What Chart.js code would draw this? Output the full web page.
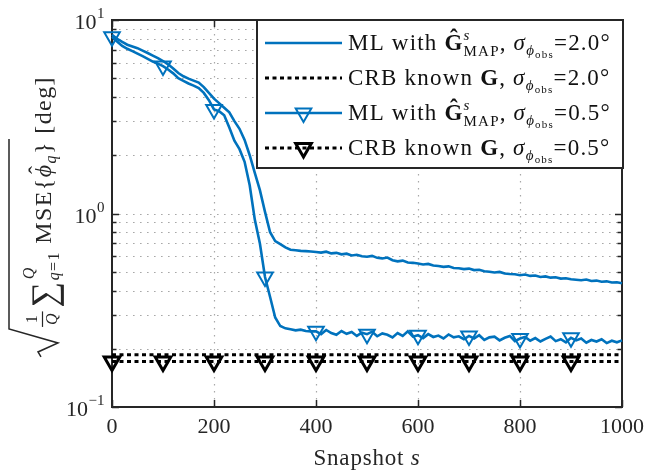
<!DOCTYPE html>
<html>
<head>
<meta charset="utf-8">
<script src="https://cdn.jsdelivr.net/npm/chart.js@4.4.1/dist/chart.umd.min.js"></script>
<style>
  html, body { margin: 0; padding: 0; background: #fff; }
  #wrap { position: relative; width: 647px; height: 473px; }
</style>
</head>
<body>
<div id="wrap"><canvas id="mseChart" width="647" height="473"></canvas></div>
<script>
// ── Data ─────────────────────────────────────────────
const SNAP = [
  0, 10, 20, 30, 40, 50, 60, 70, 80, 90,
  100, 110, 120, 130, 140, 150, 160, 170, 180, 190,
  200, 210, 220, 230, 240, 250, 260, 270, 280, 290,
  300, 310, 320, 330, 340, 350, 360, 370, 380, 390,
  400, 410, 420, 430, 440, 450, 460, 470, 480, 490,
  500, 510, 520, 530, 540, 550, 560, 570, 580, 590,
  600, 610, 620, 630, 640, 650, 660, 670, 680, 690,
  700, 710, 720, 730, 740, 750, 760, 770, 780, 790,
  800, 810, 820, 830, 840, 850, 860, 870, 880, 890,
  900, 910, 920, 930, 940, 950, 960, 970, 980, 990,
  1000
];
// ML with G_MAP, sigma = 2.0 deg
const ML_20 = [
  8.4, 8.0, 7.7, 7.45, 7.3, 7.15, 6.95, 6.75, 6.55, 6.35,
  6.14, 5.9, 5.62, 5.32, 5.12, 4.98, 4.86, 4.75, 4.5, 4.2,
  3.92, 3.72, 3.52, 3.33, 3.0, 2.74, 2.4, 2.0, 1.62, 1.32,
  1.02, 0.8, 0.72, 0.695, 0.668, 0.65, 0.646, 0.641, 0.639, 0.636,
  0.633, 0.628, 0.635, 0.622, 0.626, 0.615, 0.620, 0.607, 0.612, 0.601,
  0.598, 0.604, 0.590, 0.586, 0.592, 0.574, 0.566, 0.571, 0.558, 0.556,
  0.551, 0.545, 0.549, 0.538, 0.535, 0.530, 0.533, 0.523, 0.521, 0.516,
  0.519, 0.510, 0.512, 0.503, 0.500, 0.496, 0.499, 0.490, 0.487, 0.485,
  0.480, 0.484, 0.476, 0.478, 0.470, 0.473, 0.466, 0.468, 0.461, 0.463,
  0.457, 0.455, 0.452, 0.456, 0.448, 0.450, 0.444, 0.446, 0.440, 0.441,
  0.436
];
// ML with G_MAP, sigma = 0.5 deg
const ML_05 = [
  8.2, 7.75, 7.35, 7.1, 6.9, 6.7, 6.5, 6.3, 6.1, 5.95,
  5.78, 5.55, 5.3, 5.0, 4.85, 4.7, 4.58, 4.45, 4.2, 3.85,
  3.45, 3.38, 3.22, 2.78, 2.38, 2.15, 1.85, 1.4, 0.93, 0.7,
  0.47, 0.37, 0.29, 0.262, 0.255, 0.252, 0.249, 0.251, 0.247, 0.246,
  0.246, 0.238, 0.250, 0.241, 0.236, 0.247, 0.239, 0.244, 0.233, 0.242,
  0.238, 0.245, 0.232, 0.240, 0.236, 0.229, 0.241, 0.233, 0.246, 0.231,
  0.235, 0.227, 0.238, 0.230, 0.234, 0.226, 0.237, 0.229, 0.232, 0.224,
  0.233, 0.226, 0.235, 0.222, 0.229, 0.231, 0.221, 0.228, 0.233, 0.219,
  0.226, 0.230, 0.220, 0.227, 0.218, 0.225, 0.231, 0.219, 0.224, 0.216,
  0.228, 0.221, 0.226, 0.215, 0.222, 0.218, 0.224, 0.214, 0.220, 0.216,
  0.221
];
// CRB, known G
const SNAP_CRB = [0, 100, 200, 300, 400, 500, 600, 700, 800, 900, 1000];
const CRB_20 = [0.186, 0.186, 0.186, 0.186, 0.186, 0.186, 0.186, 0.186, 0.186, 0.186, 0.186];
const CRB_05 = [0.172, 0.172, 0.172, 0.172, 0.172, 0.172, 0.172, 0.172, 0.172, 0.172, 0.172];

const X_TICKS = [0, 200, 400, 600, 800, 1000];
const Y_EXP = [-1, 0, 1];
const Y_MULT = [1, 2, 3, 4, 5, 6, 7, 8, 9];

const BLUE = '#0072BD';
const AXIS = '#262626';
const GRID = '#a8a8a8';
const SERIF = '"Liberation Serif", "DejaVu Serif", serif';
const font = (size, style) => (style ? style + ' ' : '') + size + 'px ' + SERIF;
const PHI = '\u03D5';

// ── rich text helper (sub/superscripts) ──────────────
function drawParts(ctx, x, y, parts, dry, spacing) {
  let cx = x, mark = x, maxX = x, prevStart = x, prevW = 0, radEnd = null;
  if ('letterSpacing' in ctx) ctx.letterSpacing = (spacing || 0) + 'px';
  for (const p of parts) {
    ctx.font = p.font;
    const w = ctx.measureText(p.t).width;
    if (p.over) {
      if (!dry) ctx.fillText(p.t, prevStart + (prevW - w) / 2 + (p.dx || 0), y + (p.dy || 0));
      continue;
    }
    if (p.reset) cx = mark;
    else if (!p.cont) cx = maxX;
    if (p.mark) mark = cx;
    cx += (p.dx || 0);
    if (!dry) ctx.fillText(p.t, cx, y + (p.dy || 0));
    prevStart = cx; prevW = w;
    cx += w;
    maxX = Math.max(maxX, cx);
    if (p.radEnd) radEnd = cx;
  }
  if ('letterSpacing' in ctx) ctx.letterSpacing = '0px';
  return { width: maxX - x, radEnd };
}

function legendText(method, sigma) {
  const big = font(23), small = font(15), tiny = font(11);
  const head = method === 'ML'
    ? [{ t: 'ML with ', font: big }, { t: '\u011C', font: font(23, 'bold') },
       { t: 's', font: font(15, 'italic'), dy: -10, mark: true },
       { t: 'MAP', font: small, dy: 6, reset: true }]
    : [{ t: 'CRB known ', font: big }, { t: 'G', font: font(23, 'bold') }];
  return head.concat([
    { t: ', ', font: big },
    { t: '\u03C3', font: font(23, 'italic') },
    { t: PHI, font: font(15, 'italic'), dy: 5 },
    { t: 'obs', font: tiny, dy: 8 },
    { t: '=' + sigma + '\u00B0', font: big }
  ]);
}

// ── grid + axes box, drawn under the data ────────────
const gridPlugin = {
  id: 'gridBox',
  beforeDatasetsDraw(chart) {
    const { ctx, chartArea: a, scales } = chart;
    const xs = scales.x, ys = scales.y;
    ctx.save();
    ctx.strokeStyle = GRID;
    ctx.lineWidth = 1.2;
    ctx.setLineDash([1.6, 5.4]);
    Y_EXP.forEach(e => Y_MULT.forEach(m => {
      const py = Math.round(ys.getPixelForValue(m * Math.pow(10, e))) + 0.5;
      if (py <= a.top + 1 || py >= a.bottom - 1) return;
      ctx.beginPath(); ctx.moveTo(a.left, py); ctx.lineTo(a.right, py); ctx.stroke();
    }));
    X_TICKS.forEach(v => {
      const px = Math.round(xs.getPixelForValue(v)) + 0.5;
      if (px <= a.left + 1 || px >= a.right - 1) return;
      ctx.beginPath(); ctx.moveTo(px, a.top); ctx.lineTo(px, a.bottom); ctx.stroke();
    });
    ctx.setLineDash([]);

    // ticks, inward, all four sides
    ctx.strokeStyle = AXIS;
    ctx.lineWidth = 1.5;
    Y_EXP.forEach(e => Y_MULT.forEach(m => {
      const py = Math.round(ys.getPixelForValue(m * Math.pow(10, e))) + 0.5;
      if (py < a.top - 1 || py > a.bottom + 1) return;
      const len = m === 1 ? 7 : 4.5;
      ctx.beginPath();
      ctx.moveTo(a.left, py); ctx.lineTo(a.left + len, py);
      ctx.moveTo(a.right, py); ctx.lineTo(a.right - len, py);
      ctx.stroke();
    }));
    X_TICKS.forEach(v => {
      const px = Math.round(xs.getPixelForValue(v)) + 0.5;
      ctx.beginPath();
      ctx.moveTo(px, a.bottom); ctx.lineTo(px, a.bottom - 7);
      ctx.moveTo(px, a.top); ctx.lineTo(px, a.top + 7);
      ctx.stroke();
    });
    ctx.lineWidth = 2;
    ctx.strokeRect(a.left, a.top, a.right - a.left, a.bottom - a.top);

    // tick labels
    ctx.fillStyle = AXIS;
    ctx.font = font(22);
    ctx.textAlign = 'center';
    ctx.textBaseline = 'alphabetic';
    X_TICKS.forEach(v => ctx.fillText(String(v), xs.getPixelForValue(v), a.bottom + 26));
    ctx.textAlign = 'left';
    Y_EXP.forEach(e => {
      const py = ys.getPixelForValue(Math.pow(10, e));
      const sup = e < 0 ? '\u2212' + (-e) : String(e);
      ctx.font = font(15);
      const sw = ctx.measureText(sup).width;
      ctx.font = font(22);
      const bw = ctx.measureText('10').width;
      const x0 = 104 - sw - bw;
      ctx.fillText('10', x0, py + 9);
      ctx.font = font(15);
      ctx.fillText(sup, x0 + bw + 0.5, py - 2);
    });

    // x label
    const xl = [{ t: 'Snapshot ', font: font(23) }, { t: 's', font: font(23, 'italic') }];
    const xw = drawParts(ctx, 0, 0, xl, true, 0.8).width;
    drawParts(ctx, (a.left + a.right) / 2 - xw / 2, 465, xl, false, 0.8);

    // y label, rotated
    drawYLabel(ctx, 51, (a.top + a.bottom) / 2 + 3);
    ctx.restore();
  }
};

function drawYLabel(ctx, bx, cy) {
  const main = font(24), small = font(16);
  const parts = [
    { t: '\u2211', font: font(36), dy: 5, dx: 3 },
    { t: 'Q', font: font(16, 'italic'), dy: -17, mark: true, dx: 1 },
    { t: 'q', font: font(16, 'italic'), dy: 8, reset: true },
    { t: '=1', font: small, dy: 8, cont: true },
    { t: ' MSE{', font: main },
    { t: PHI, font: font(24, 'italic') },
    { t: '\u02C6', font: main, over: true, dy: -6, dx: 1 },
    { t: 'q', font: font(16, 'italic'), dy: 5 },
    { t: '}', font: main, radEnd: true },
    { t: ' [deg]', font: main }
  ];
  const SP = 1.4;
  ctx.save();
  ctx.translate(bx, cy);
  ctx.rotate(-Math.PI / 2);
  ctx.font = small;
  const fw = Math.max(ctx.measureText('1').width, ctx.measureText('Q').width) + 6;
  const radW = 29;
  const rest = drawParts(ctx, 0, 0, parts, true, SP).width;
  const total = radW + fw + rest;
  const u0 = -total / 2;
  // fraction 1/Q
  const fx = u0 + radW;
  ctx.font = small;
  ctx.textAlign = 'center';
  ctx.fillText('1', fx + fw / 2, -14);
  ctx.font = font(16, 'italic');
  ctx.fillText('Q', fx + fw / 2, 6);
  ctx.textAlign = 'left';
  ctx.strokeStyle = AXIS;
  ctx.lineWidth = 1.2;
  ctx.beginPath(); ctx.moveTo(fx + 1, -8.5); ctx.lineTo(fx + fw - 1, -8.5); ctx.stroke();
  const res = drawParts(ctx, fx + fw, 0, parts, false, SP);
  // radical sign
  ctx.lineWidth = 1.5;
  ctx.beginPath();
  ctx.moveTo(u0, -10);
  ctx.lineTo(u0 + 5, -13);
  ctx.lineTo(u0 + 14, 7);
  ctx.lineTo(u0 + 28, -42);
  ctx.lineTo(res.radEnd + 2, -42);
  ctx.stroke();
  ctx.restore();
}

// ── legend, drawn last ───────────────────────────────
const LEGEND_ROWS = [
  { method: 'ML', sigma: '2.0', color: BLUE, dash: [], marker: false, y: 43 },
  { method: 'CRB', sigma: '2.0', color: '#000', dash: [4, 3.5], marker: false, y: 78 },
  { method: 'ML', sigma: '0.5', color: BLUE, dash: [], marker: true, y: 113 },
  { method: 'CRB', sigma: '0.5', color: '#000', dash: [4, 3.5], marker: true, y: 148 }
];
const legendPlugin = {
  id: 'texLegend',
  afterDraw(chart) {
    const ctx = chart.ctx;
    const box = { l: 257, t: 20, r: 623, b: 168 };
    ctx.save();
    ctx.fillStyle = '#fff';
    ctx.fillRect(box.l, box.t, box.r - box.l, box.b - box.t);
    ctx.strokeStyle = AXIS;
    ctx.lineWidth = 2;
    ctx.strokeRect(box.l, box.t, box.r - box.l, box.b - box.t);
    LEGEND_ROWS.forEach(row => {
      ctx.strokeStyle = row.color;
      ctx.lineWidth = row.dash.length ? 3 : 2.5;
      ctx.setLineDash(row.dash);
      ctx.beginPath(); ctx.moveTo(265, row.y); ctx.lineTo(342, row.y); ctx.stroke();
      ctx.setLineDash([]);
      if (row.marker) {
        const r = 9, cx = 303.5, cy = row.y;
        ctx.lineWidth = row.color === BLUE ? 2 : 3;
        ctx.beginPath();
        ctx.moveTo(cx, cy + r);
        ctx.lineTo(cx - r * 0.866, cy - r / 2);
        ctx.lineTo(cx + r * 0.866, cy - r / 2);
        ctx.closePath();
        ctx.stroke();
      }
      ctx.fillStyle = '#111';
      drawParts(ctx, 348, row.y + 7, legendText(row.method, row.sigma), false, 1.2);
    });
    ctx.restore();
  }
};

// ── chart ────────────────────────────────────────────
const pts = (xs, ys) => xs.map((x, i) => ({ x, y: ys[i] }));
const markEvery100 = xs => xs.map(x => (x % 100 === 0 && x < 1000 ? 9 : 0));

new Chart(document.getElementById('mseChart'), {
  type: 'line',
  plugins: [gridPlugin, legendPlugin],
  data: {
    datasets: [
      {
        label: 'ML 2.0', data: pts(SNAP, ML_20), order: 4,
        borderColor: BLUE, borderWidth: 2.6, pointRadius: 0, tension: 0, clip: false
      },
      {
        label: 'CRB 2.0', data: pts(SNAP_CRB, CRB_20), order: 3,
        borderColor: '#000', borderWidth: 3, borderDash: [4, 3.5], pointRadius: 0, clip: false
      },
      {
        label: 'ML 0.5', data: pts(SNAP, ML_05), order: 2,
        borderColor: BLUE, borderWidth: 2.6, tension: 0, clip: false,
        pointStyle: 'triangle', rotation: 180,
        pointRadius: markEvery100(SNAP), pointHoverRadius: markEvery100(SNAP),
        pointBorderColor: BLUE, pointBorderWidth: 2, pointBackgroundColor: 'rgba(0,0,0,0)'
      },
      {
        label: 'CRB 0.5', data: pts(SNAP_CRB, CRB_05), order: 1,
        borderColor: '#000', borderWidth: 3, borderDash: [4, 3.5], clip: false,
        pointStyle: 'triangle', rotation: 180,
        pointRadius: markEvery100(SNAP_CRB), pointHoverRadius: markEvery100(SNAP_CRB),
        pointBorderColor: '#000', pointBorderWidth: 3, pointBackgroundColor: 'rgba(0,0,0,0)'
      }
    ]
  },
  options: {
    responsive: false,
    animation: false,
    devicePixelRatio: 1,
    layout: { padding: { left: 112, top: 20, right: 25, bottom: 66 } },
    plugins: { legend: { display: false }, tooltip: { enabled: false } },
    scales: {
      x: { type: 'linear', min: 0, max: 1000, display: false },
      y: { type: 'logarithmic', min: 0.1, max: 10, display: false }
    }
  }
});
</script>
</body>
</html>
